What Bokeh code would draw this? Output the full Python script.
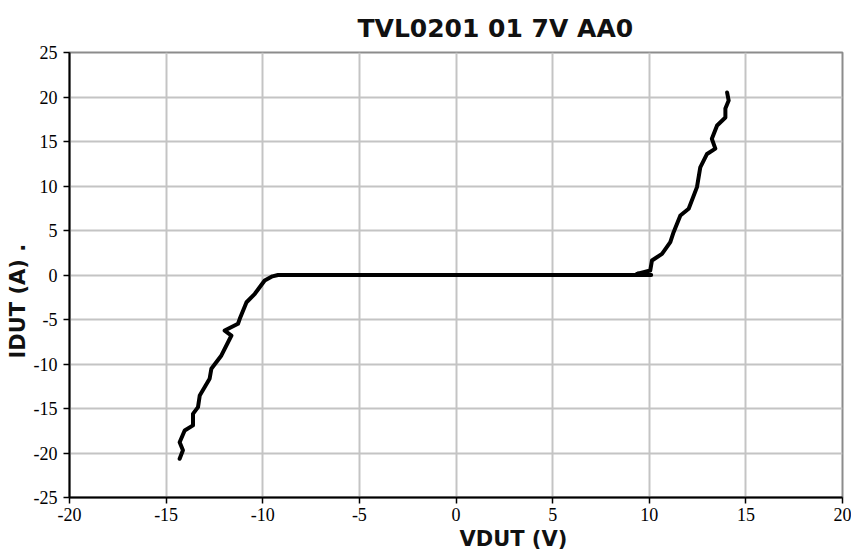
import math
from bokeh.plotting import figure
from bokeh.models import FixedTicker, Title
from bokeh.embed import file_html
from bokeh.resources import INLINE

title_text = "TVL0201 01 7V AA0"
x_label = "VDUT (V)"
y_label = "IDUT (A) ."

x_ticks = [-20, -15, -10, -5, 0, 5, 10, 15, 20]
x_tick_labels = ["-20", "-15", "-10", "-5", "0", "5", "10", "15", "20"]
y_ticks = [-25, -20, -15, -10, -5, 0, 5, 10, 15, 20, 25]
y_tick_labels = ["-25", "-20", "-15", "-10", "-5", "0", "5", "10", "15", "20", "25"]

# I-V sweep
vdut = [-14.30, -14.13, -14.30, -14.04, -13.61, -13.61, -13.35, -13.26, -12.75,
        -12.66, -12.14, -11.62, -11.97, -11.28, -11.19, -10.84, -10.41, -10.16,
        -9.90, -9.50, -9.21, 10.10, 9.36, 10.05, 10.14, 10.66, 11.09, 11.26, 11.61,
        12.04, 12.47, 12.64, 12.99, 13.42, 13.24, 13.51, 13.94, 13.94, 14.11, 14.03]
idut = [-20.65, -19.7, -18.8, -17.47, -16.9, -15.6, -14.85, -13.54, -11.66,
        -10.54, -9.04, -6.80, -6.24, -5.48, -4.92, -3.06, -2.11, -1.37,
        -0.62, -0.15, 0.0, 0.0, 0.13, 0.5, 1.63, 2.38, 3.69, 4.81, 6.69,
        7.44, 9.87, 12.1, 13.6, 14.2, 15.3, 16.8, 17.7, 18.7, 19.6, 20.5]

p = figure(width=851, height=554, x_range=(-20, 20), y_range=(-25, 25),
           output_backend="svg", toolbar_location=None, title=None,
           min_border_left=69, min_border_right=9, min_border_top=52,
           min_border_bottom=57, background_fill_color="white",
           border_fill_color="white")

p.outline_line_color = "#8c8c8c"
p.outline_line_width = 2

for ax in (p.xaxis[0], p.yaxis[0]):
    ax.axis_line_color = "black"
    ax.axis_line_width = 2
    ax.major_tick_line_color = "black"
    ax.major_tick_line_width = 1.5
    ax.major_tick_out = 6
    ax.major_tick_in = 0
    ax.minor_tick_line_color = None
    ax.major_label_text_font = "Liberation Serif"
    ax.major_label_text_font_size = "18px"
    ax.major_label_text_color = "black"

p.xaxis.ticker = FixedTicker(ticks=x_ticks)
p.yaxis.ticker = FixedTicker(ticks=y_ticks)
p.xaxis.major_label_overrides = {t: s for t, s in zip(x_ticks, x_tick_labels)}
p.yaxis.major_label_overrides = {t: s for t, s in zip(y_ticks, y_tick_labels)}
p.xaxis.major_label_standoff = 4
p.yaxis.major_label_standoff = 6

p.xgrid.ticker = FixedTicker(ticks=x_ticks)
p.ygrid.ticker = FixedTicker(ticks=y_ticks)
for g in (p.xgrid[0], p.ygrid[0]):
    g.grid_line_color = "#c4c4c4"
    g.grid_line_width = 2

p.line(vdut, idut, line_color="black", line_width=4, line_join="round", line_cap="round")

p.add_layout(Title(text=title_text, align="left", offset=288, text_font="DejaVu Sans",
                   text_font_style="bold", text_font_size="25px",
                   text_color="#111111", standoff=20), "above")
p.add_layout(Title(text=x_label, align="left", offset=390, text_font="DejaVu Sans",
                   text_font_style="bold", text_font_size="21px",
                   text_color="#111111", standoff=2), "below")
p.add_layout(Title(text=y_label, align="left", offset=139, text_font="DejaVu Sans",
                   text_font_style="bold", text_font_size="21px",
                   text_color="#111111", standoff=2), "left")

open("out.html", "w").write(file_html(p, INLINE))
